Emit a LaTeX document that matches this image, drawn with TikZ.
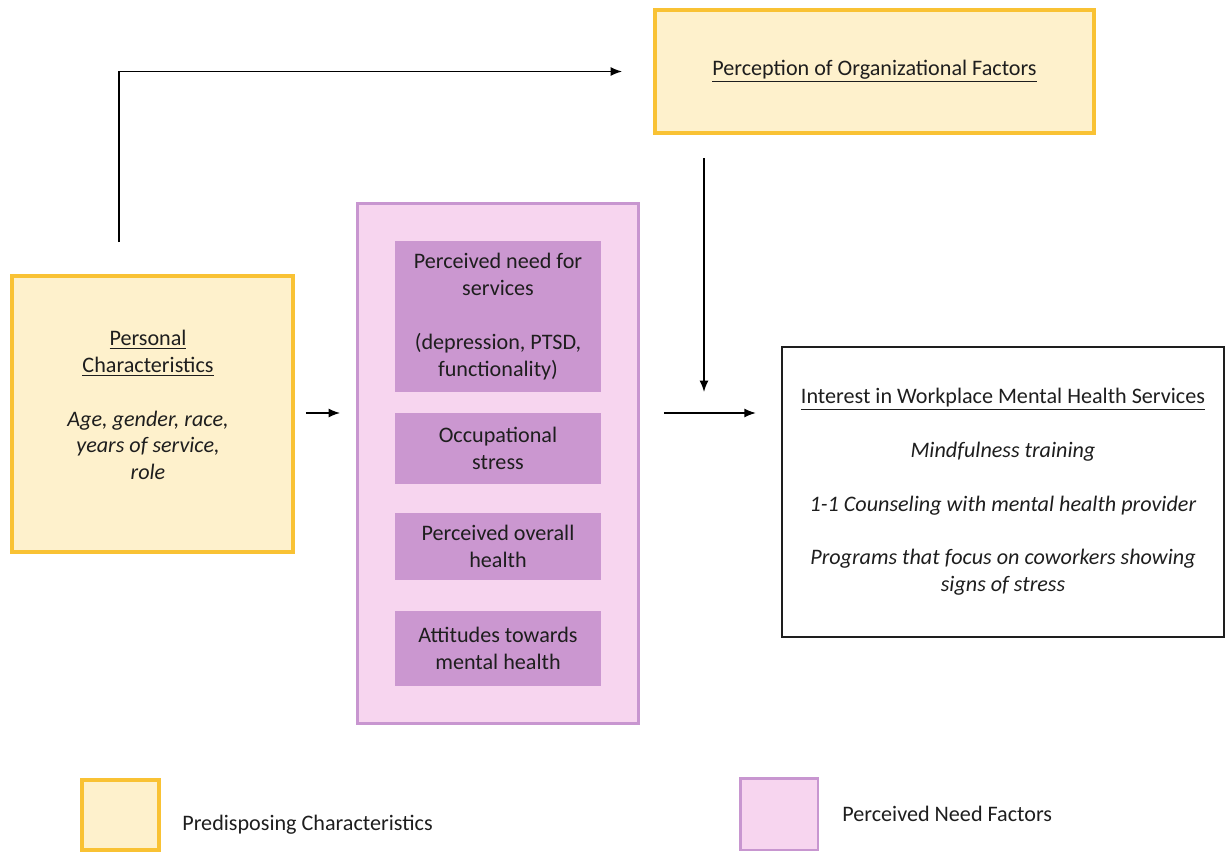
\documentclass[tikz,border=0pt]{standalone}
\usepackage{fontspec}
\setmainfont{Carlito}
\usetikzlibrary{arrows.meta}

\definecolor{predline}{HTML}{F9C234}
\definecolor{predfill}{HTML}{FEF1CC}
\definecolor{needline}{HTML}{C896D0}
\definecolor{needfill}{HTML}{F7D5EF}
\definecolor{needitem}{HTML}{CB97D0}
\definecolor{ink}{HTML}{1E1E1E}

\tikzset{
	txt/.style={font=\fontsize{12.6}{15.3}\selectfont, text=ink, align=center},
	predbox/.style={draw=predline, fill=predfill, line width=2.2pt},
	needbox/.style={draw=needline, fill=needfill, line width=1.7pt},
	itembox/.style={txt, fill=needitem, minimum width=4.12cm},
	link/.style={-{Latex[length=2.3mm,width=1.8mm]}, line width=0.8pt}
}

\begin{document}
\begin{tikzpicture}[x=0.02cm, y=-0.02cm]
	\useasboundingbox (0,0) rectangle (1225,852);

	% Predisposing characteristics
	\node[predbox, minimum width=5.62cm, minimum height=5.52cm] (personal) at (152.5,414) {};
	\node[txt] (pertext) at (148,405) {\underline{Personal}\\\underline{Characteristics}\\[15.3pt]
		\textit{Age, gender, race,}\\\textit{years of service,}\\\textit{role}};

	\node[predbox, txt, minimum width=8.78cm, minimum height=2.46cm] (orgfactors) at (874.5,71.5)
		{\underline{Perception of Organizational Factors}};

	% Perceived need factors
	\node[needbox, minimum width=5.64cm, minimum height=10.42cm] (needs) at (498,463.5) {};
	\node[itembox, minimum height=3.02cm] (needserv) at (498,316.5)
		{Perceived need for\\services\\[15.3pt](depression, PTSD,\\functionality)};
	\node[itembox, minimum height=1.42cm] (stress) at (498,448.5) {Occupational\\stress};
	\node[itembox, minimum height=1.34cm] (health) at (498,546.5) {Perceived overall\\health};
	\node[itembox, minimum height=1.5cm] (attitude) at (498,648.5) {Attitudes towards\\mental health};

	% Outcome
	\node[draw=ink, line width=0.8pt, txt, minimum width=8.84cm, minimum height=5.8cm] (interest) at (1003,492)
		{\underline{Interest in Workplace Mental Health Services}\\[15.3pt]
		\textit{Mindfulness training}\\[15.3pt]
		\textit{1-1 Counseling with mental health provider}\\[15.3pt]
		\textit{Programs that focus on coworkers showing}\\\textit{signs of stress}};

	% Connectors
	\coordinate (upstart) at (119,242);
	\coordinate (downstart) at (704,158);
	\coordinate (downend) at (704,392);
	\draw[link] (upstart) |- ([xshift=-0.62cm]orgfactors.west);
	\draw[link] (downstart) -- (downend);
	\draw[link, shorten <=0.22cm, shorten >=0.31cm] (personal.east |- 0,413) -- (needs.west |- 0,413);
	\draw[link, shorten <=0.47cm, shorten >=0.51cm] (needs.east |- 0,413) -- (interest.west |- 0,413);

	% Legend
	\node[predbox, minimum width=1.54cm, minimum height=1.4cm] (keypred) at (120.5,815) {};
	\node[txt, anchor=west, inner sep=0pt] (keypredtext) at (182,825) {Predisposing Characteristics};
	\node[needbox, minimum width=1.56cm, minimum height=1.44cm] (keyneed) at (779,814) {};
	\node[txt, anchor=west, inner sep=0pt] (keyneedtext) at (842,814) {Perceived Need Factors};

\end{tikzpicture}
\end{document}
